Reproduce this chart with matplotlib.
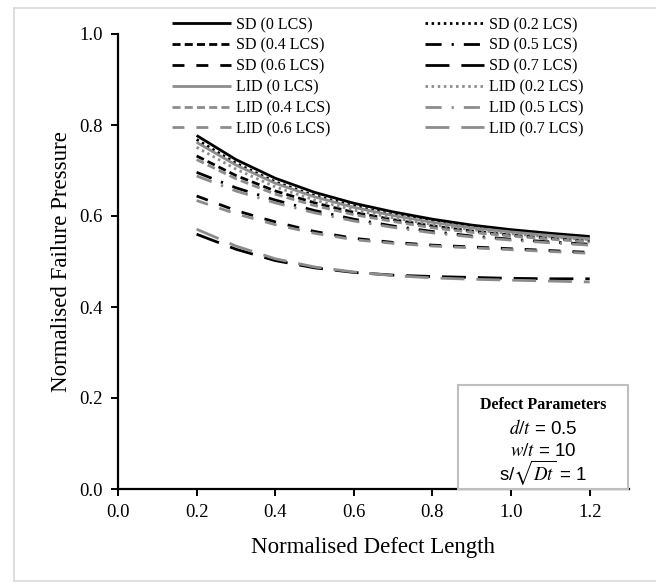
import matplotlib
matplotlib.use('Agg')
import matplotlib.pyplot as plt
from matplotlib.lines import Line2D

plt.rcParams['font.family'] = ['Liberation Serif', 'DejaVu Serif']
plt.rcParams['mathtext.fontset'] = 'stix'

# データ
defect_length = [0.2, 0.3, 0.4, 0.5, 0.6, 0.7, 0.8, 0.9, 1.0, 1.1, 1.2]

sd_0 = [0.777, 0.724, 0.683, 0.652, 0.628, 0.609, 0.593, 0.580, 0.570, 0.562, 0.555]
sd_02 = [0.768, 0.716, 0.675, 0.645, 0.622, 0.603, 0.588, 0.576, 0.566, 0.558, 0.552]
sd_04 = [0.732, 0.689, 0.655, 0.629, 0.608, 0.592, 0.578, 0.567, 0.558, 0.551, 0.545]
sd_05 = [0.696, 0.662, 0.635, 0.612, 0.593, 0.578, 0.566, 0.556, 0.549, 0.543, 0.538]
sd_06 = [0.644, 0.612, 0.587, 0.566, 0.551, 0.542, 0.536, 0.532, 0.528, 0.524, 0.520]
sd_07 = [0.560, 0.527, 0.502, 0.486, 0.476, 0.470, 0.467, 0.465, 0.463, 0.462, 0.462]

lid_0 = [0.762, 0.712, 0.672, 0.642, 0.619, 0.601, 0.586, 0.574, 0.565, 0.557, 0.550]
lid_02 = [0.751, 0.703, 0.664, 0.635, 0.613, 0.596, 0.581, 0.570, 0.561, 0.554, 0.548]
lid_04 = [0.724, 0.682, 0.648, 0.623, 0.603, 0.588, 0.574, 0.564, 0.556, 0.549, 0.543]
lid_05 = [0.688, 0.655, 0.629, 0.607, 0.589, 0.575, 0.563, 0.554, 0.547, 0.541, 0.536]
lid_06 = [0.634, 0.605, 0.581, 0.562, 0.548, 0.540, 0.534, 0.530, 0.526, 0.522, 0.518]
lid_07 = [0.571, 0.534, 0.506, 0.488, 0.477, 0.469, 0.464, 0.461, 0.459, 0.457, 0.455]

lcs_labels = ['0', '0.2', '0.4', '0.5', '0.6', '0.7']
sd_series = [sd_0, sd_02, sd_04, sd_05, sd_06, sd_07]
lid_series = [lid_0, lid_02, lid_04, lid_05, lid_06, lid_07]

# 線種（LCSごと）
dash_styles = [
    (0, ()),
    (0, (0.9, 1.3)),
    (0, (2.9, 1.5)),
    (0, (5.8, 3.6, 0.8, 3.6)),
    (0, (4.3, 4.3)),
    (0, (8.6, 4.3)),
]

fig = plt.figure(figsize=(6.56, 5.85), dpi=100)
ax = fig.add_axes([118 / 656, 1 - 489 / 585, (629 - 118) / 656, (489 - 34) / 585])

handles = {}
for name, color, series in [('SD', 'black', sd_series), ('LID', '#8c8c8c', lid_series)]:
    for lab, ys, ls in zip(lcs_labels, series, dash_styles):
        line, = ax.plot(defect_length, ys, color=color, lw=2.0, linestyle=ls,
                        dash_capstyle='butt', label=f'{name} ({lab} LCS)')
        handles[(name, lab)] = line

ax.set_xlim(0, 1.3)
ax.set_ylim(0, 1.0)
ax.set_xticks([0.0, 0.2, 0.4, 0.6, 0.8, 1.0, 1.2])
ax.set_yticks([0.0, 0.2, 0.4, 0.6, 0.8, 1.0])
ax.xaxis.set_major_formatter(matplotlib.ticker.FormatStrFormatter('%.1f'))
ax.yaxis.set_major_formatter(matplotlib.ticker.FormatStrFormatter('%.1f'))
for s in ['top', 'right']:
    ax.spines[s].set_visible(False)
for s in ['left', 'bottom']:
    ax.spines[s].set_linewidth(1.6)
ax.tick_params(direction='out', length=5, width=1.4, labelsize=13.5, pad=6)
ax.set_xlabel('Normalised Defect Length', fontsize=16.5, labelpad=11)
ax.set_ylabel('Normalised Failure Pressure', fontsize=16.5, labelpad=5)

# 凡例（2列、行優先の並び）
col1 = [('SD', '0'), ('SD', '0.4'), ('SD', '0.6'), ('LID', '0'), ('LID', '0.4'), ('LID', '0.6')]
col2 = [('SD', '0.2'), ('SD', '0.5'), ('SD', '0.7'), ('LID', '0.2'), ('LID', '0.5'), ('LID', '0.7')]
leg_kw = dict(loc='upper left', frameon=False, fontsize=11.5, handlelength=3.7,
              handletextpad=0.3, labelspacing=0.3, borderpad=0, borderaxespad=0)
fig.legend([handles[k] for k in col1], [handles[k].get_label() for k in col1],
           bbox_to_anchor=(172 / 656, 1 - 17 / 585), **leg_kw)
fig.legend([handles[k] for k in col2], [handles[k].get_label() for k in col2],
           bbox_to_anchor=(425 / 656, 1 - 17 / 585), **leg_kw)

# 欠陥パラメータの枠
box = plt.Rectangle((458 / 656, 1 - 489 / 585), (628 - 458) / 656, (489 - 385) / 585,
                    transform=fig.transFigure, fill=True, facecolor='white',
                    edgecolor='#bfbfbf', lw=1.5, zorder=5)
fig.patches.append(box)
cx = 543 / 656
fig.text(cx, 1 - 405 / 585, 'Defect Parameters', ha='center', va='center',
         fontsize=11.5, fontweight='bold', zorder=6)
fig.text(cx, 1 - 429 / 585, '$d/t$ = 0.5', ha='center', va='center', fontsize=13.5,
         family=['Liberation Sans', 'DejaVu Sans'], zorder=6)
fig.text(cx, 1 - 451 / 585, '$w/t$ = 10', ha='center', va='center', fontsize=13.5,
         family=['Liberation Sans', 'DejaVu Sans'], zorder=6)
fig.text(cx, 1 - 473 / 585, 's/$\\sqrt{Dt}$ = 1', ha='center', va='center', fontsize=13.5,
         family=['Liberation Sans', 'DejaVu Sans'], zorder=6)

# 図全体の枠線
for xs, ys in [([14, 14], [8, 581]), ([14, 656], [8, 8]), ([14, 656], [581, 581])]:
    fig.add_artist(Line2D([x / 656 for x in xs], [1 - y / 585 for y in ys],
                          transform=fig.transFigure, color='#d9d9d9', lw=1.2))

fig.savefig('out.png', dpi=100, facecolor='white')
